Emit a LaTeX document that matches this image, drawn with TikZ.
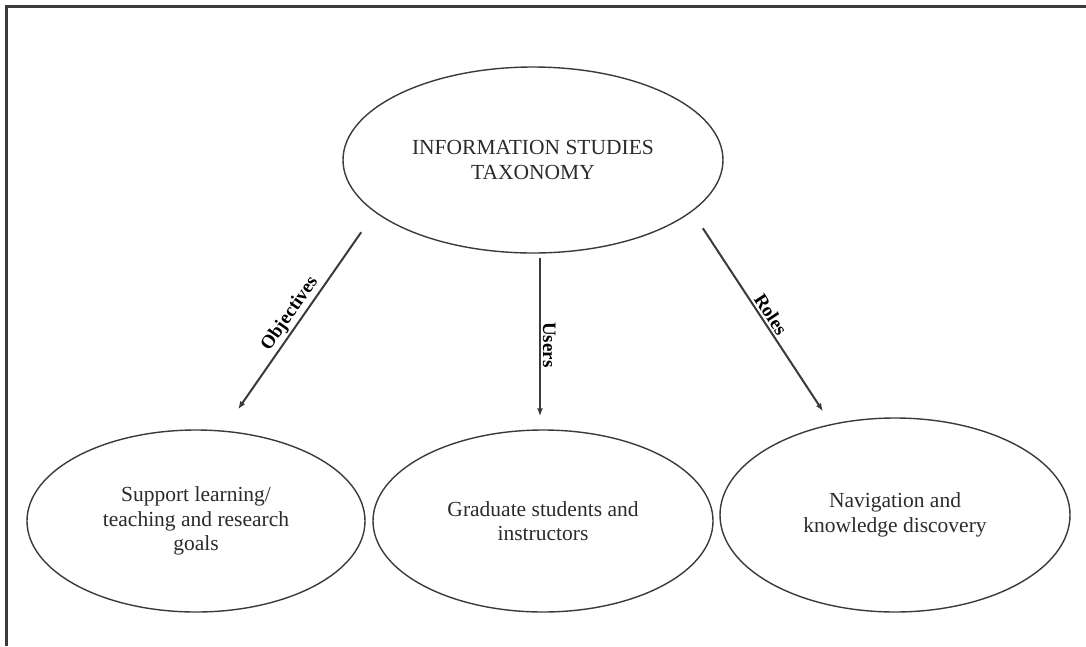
\documentclass[tikz,border=0pt]{standalone}
\usepackage{fontspec}
\setmainfont{Liberation Serif}
\usetikzlibrary{shapes.geometric, arrows.meta}
\definecolor{tink}{HTML}{2B2B2B}
\definecolor{tline}{HTML}{3A3A3A}

\begin{document}
\begin{tikzpicture}[x=1pt, y=-1pt, every node/.style={font=\fontsize{21.5}{24.5}\selectfont, text=tink},
    topic/.style={draw=tline, ellipse, line width=1.4pt, inner sep=0pt, align=center},
    flow/.style={-{Latex[length=8pt, width=6pt]}, tline, line width=2pt},
    tag/.style={font=\fontsize{19}{21}\selectfont\bfseries, text=black, sloped, above, inner sep=2pt}]
        \useasboundingbox (0,0) rectangle (1086,646);
        \draw[tline, line width=3pt] (6,646) -- (6,6) -- (1086,6);
        \node[topic, minimum width=380pt, minimum height=186pt] (tax) at (533,160) {INFORMATION STUDIES\\TAXONOMY};
        \node[topic, minimum width=338pt, minimum height=182pt] (goal) at (196,521) {Support learning/\\teaching and research\\goals};
        \node[topic, minimum width=340pt, minimum height=182pt] (users) at (543,521) {Graduate students and\\instructors};
        \node[topic, minimum width=350pt, minimum height=194pt] (nav) at (895,515) {Navigation and\\knowledge discovery};
        \draw[flow] ([shift={(-37,6)}]tax.south west) -- node[tag] {Objectives} ([shift={(42,-20)}]goal.north);
        \draw[flow] ([shift={(7,4)}]tax.south) -- node[tag, pos=0.55] {Users} ([shift={(-3,-13)}]users.north);
        \draw[flow] ([shift={(35,2)}]tax.south east) -- node[tag] {Roles} ([shift={(-72,-6)}]nav.north);
      \end{tikzpicture}
\end{document}
